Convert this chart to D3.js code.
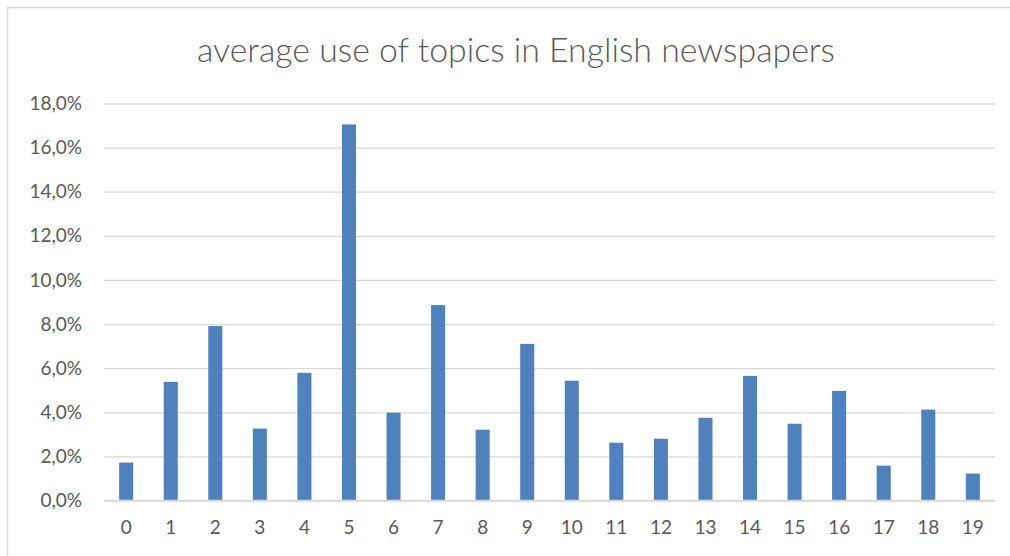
<!DOCTYPE html>
<html>
<head>
<meta charset="utf-8">
<script src="https://cdn.jsdelivr.net/npm/d3@7"></script>
<style>
  html, body { margin: 0; padding: 0; background: #fff; }
  svg { display: block; }
  text { font-family: Lato, "Open Sans", "Liberation Sans", sans-serif; fill: #595959; }
</style>
</head>
<body>
<svg id="chart" width="1010" height="556"></svg>
<script>
// Topic ids and their average share across English newspapers (fractions)
const topics = ["0","1","2","3","4","5","6","7","8","9","10","11","12","13","14","15","16","17","18","19"];
const shares = [0.0172, 0.0538, 0.0791, 0.0326, 0.0579, 0.1705, 0.0398, 0.0886, 0.0321, 0.0710,
                0.0543, 0.0262, 0.0280, 0.0375, 0.0565, 0.0348, 0.0497, 0.0158, 0.0412, 0.0122];
const yTicks = [0, 0.02, 0.04, 0.06, 0.08, 0.10, 0.12, 0.14, 0.16, 0.18];
const title = "average use of topics in English newspapers";

const svg = d3.select("#chart");
const W = 1010, H = 556;
const plot = { left: 104, right: 995, top: 103.5, bottom: 500.5 };

// outer chart frame
svg.append("rect")
  .attr("x", 7.5).attr("y", 7.5)
  .attr("width", W).attr("height", H)
  .attr("fill", "none").attr("stroke", "#d9d9d9").attr("stroke-width", 1.5);

const x = d3.scaleBand().domain(topics).range([plot.left, plot.right]).paddingInner(0.685).paddingOuter(0.34);
const y = d3.scaleLinear().domain([0, 0.18]).range([plot.bottom, plot.top]);

const fmt = v => d3.format(".1%")(v).replace(".", ",");

// horizontal gridlines with the value labels
const yAxis = d3.axisLeft(y).tickValues(yTicks).tickFormat(fmt)
  .tickSize(-(plot.right - plot.left)).tickPadding(22);
const gy = svg.append("g").attr("transform", `translate(${plot.left},0)`).call(yAxis);
gy.select(".domain").remove();
gy.selectAll(".tick line").attr("stroke", "#d9d9d9").attr("stroke-width", 1.3);
gy.selectAll(".tick text").style("font-size", "19px").attr("fill", "#595959");

// bars
svg.append("g").selectAll("rect").data(topics).join("rect")
  .attr("x", d => x(d))
  .attr("width", x.bandwidth())
  .attr("y", (d, i) => y(shares[i]))
  .attr("height", (d, i) => y(0) - y(shares[i]))
  .attr("fill", "#4f81bd");

// category axis
const xAxis = d3.axisBottom(x).tickSize(0).tickPadding(20);
const gx = svg.append("g").attr("transform", `translate(0,${plot.bottom})`).call(xAxis);
gx.select(".domain").remove();
gx.selectAll(".tick text").style("font-size", "19px").attr("fill", "#595959");
svg.append("line")
  .attr("x1", plot.left).attr("x2", plot.right)
  .attr("y1", plot.bottom).attr("y2", plot.bottom)
  .attr("stroke", "#d9d9d9").attr("stroke-width", 1.3);

// title
const t = svg.append("text")
  .attr("x", 516).attr("y", 62)
  .attr("text-anchor", "middle")
  .style("font-size", "30px")
  .style("font-weight", 300)
  .text(title);
const len = t.node().getComputedTextLength();
if (len > 0) t.style("font-size", (30 * 638 / len) + "px");
</script>
</body>
</html>
